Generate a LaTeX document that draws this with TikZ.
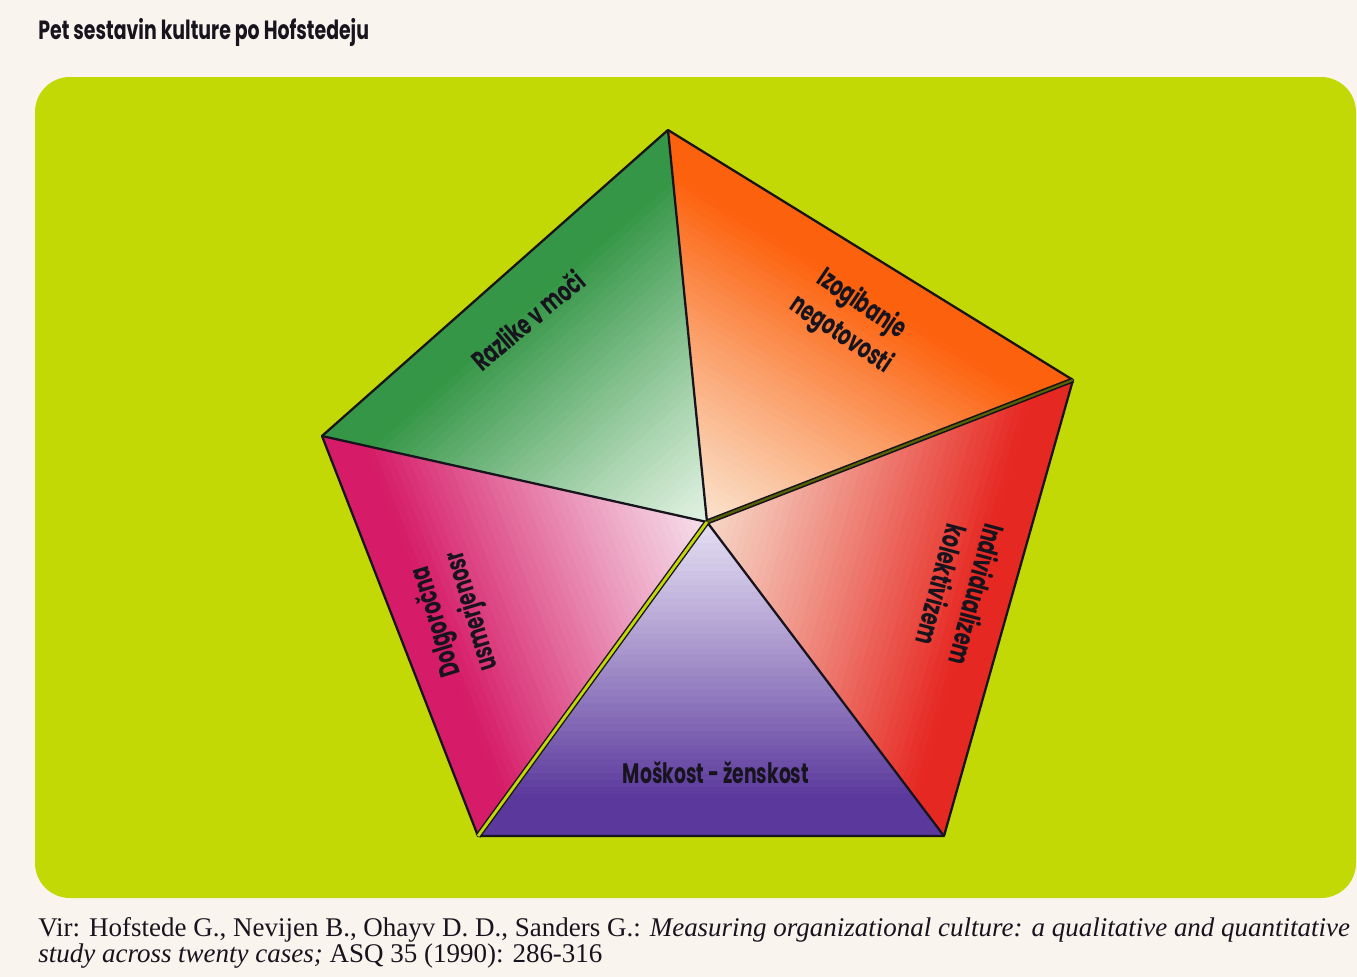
\documentclass[tikz,border=0pt]{standalone}
\usepackage{fontspec}
\usepackage{graphicx}
\usetikzlibrary{calc}
\newfontfamily\labfont{Poppins}
\newfontfamily\capfont{Liberation Serif}
\definecolor{pagebg}{RGB}{250,244,238}
\definecolor{limeg}{RGB}{195,217,6}
\definecolor{gdark}{RGB}{52,150,70}
\definecolor{glight}{RGB}{226,242,226}
\definecolor{odark}{RGB}{252,98,14}
\definecolor{olight}{RGB}{250,226,204}
\definecolor{rdark}{RGB}{230,40,34}
\definecolor{rlight}{RGB}{246,214,198}
\definecolor{pdark}{RGB}{90,56,156}
\definecolor{plight}{RGB}{228,222,242}
\definecolor{mdark}{RGB}{214,28,104}
\definecolor{mlight}{RGB}{246,222,234}
\definecolor{inkc}{RGB}{24,20,30}
\newsavebox\mybox
\newcommand\labsize{\labfont\bfseries\fontsize{16}{21}\selectfont}
\newcommand\titsize{\labfont\bfseries\fontsize{15}{20}\selectfont}
\newcommand\lab[1]{\scalebox{\labsx}[1]{\labsize\begin{tabular}{@{}c@{}}#1\end{tabular}}}
% gradient sector: outer edge #1--#2, towards centre C
\newcommand\sectorfill[4]{%
  \foreach \i in {0,...,44}{%
    \pgfmathsetmacro\ta{\i/45}%
    \pgfmathsetmacro\tb{min(1,(\i+1.6)/45)}%
    \pgfmathsetmacro\pc{100*max(0,min(1,(1-(\i+0.5)/45)/0.88))^1.1}%
    \fill[#3!\pc!#4] ($(#1)!\ta!(C)$) -- ($(#2)!\ta!(C)$) -- ($(#2)!\tb!(C)$) -- ($(#1)!\tb!(C)$) -- cycle;
  }}
\begin{document}
\sbox\mybox{\labsize Moškost - ženskost}%
\pgfmathsetmacro\labsx{106/\the\wd\mybox}%
\sbox\mybox{\titsize Pet sestavin kulture po Hofstedeju}%
\pgfmathsetmacro\titsx{188.2/\the\wd\mybox}%
\sbox\mybox{\capfont\fontsize{10}{12}\selectfont Vir: Hofstede G., Nevijen B., Ohayv D. D., Sanders G.: \textit{Measuring organizational culture: a qualitative and quantitative}}%
\pgfmathsetmacro\capsc{746.6/\the\wd\mybox}%
\begin{tikzpicture}[x=0.02cm,y=-0.02cm,
  edge/.style={draw=inkc, line width=1.3pt, line join=round},
  labnode/.style={inner sep=0pt, text=inkc},
  capnode/.style={anchor=base west, inner sep=0pt, text=inkc}]
% page
\useasboundingbox (0,0) rectangle (1357,977);
\fill[pagebg] (0,0) rectangle (1357,977);
\fill[limeg, rounded corners=0.7cm] (35,77) rectangle (1356,898);
% vertices
\coordinate (T) at (668,130);
\coordinate (R) at (1073,380);
\coordinate (BR) at (944,836);
\coordinate (BL) at (478,836);
\coordinate (L) at (322,436);
\coordinate (C) at (707,522);
% sectors
\sectorfill{L}{T}{gdark}{glight}
\sectorfill{T}{R}{odark}{olight}
\sectorfill{R}{BR}{rdark}{rlight}
\sectorfill{BR}{BL}{pdark}{plight}
\sectorfill{BL}{L}{mdark}{mlight}
% lines
\draw[edge] (T)--(R)--(BR)--(BL)--(L)--cycle;
\draw[edge] (C)--(T);
\draw[edge] (C)--(L);
\draw[edge] (C)--(BR);
\draw[draw=inkc, line width=0.9pt, double=black!55!limeg, double distance=1.2pt] (C)--(R);
\draw[draw=inkc, line width=0.8pt, double=limeg, double distance=1.6pt] (C)--(BL);
% labels
\node[labnode, rotate=40] (razlike) at (530,323) {\lab{Razlike v moči}};
\node[labnode, rotate=-34] (izog) at (851,320) {\lab{Izogibanje\\negotovosti}};
\node[labnode, rotate=-105] (indiv) at (956,589) {\lab{Individualizem\\kolektivizem}};
\node[labnode, rotate=107] (dolg) at (455,616) {\lab{Dolgoročna\\usmerjenosr}};
\node[labnode] (mosk) at (716,776) {\lab{Moškost - ženskost}};
% title and caption
\node[capnode] (title) at (38,39) {\scalebox{\titsx}[1]{\titsize Pet sestavin kulture po Hofstedeju}};
\node[capnode] (cap1) at (38,936) {\scalebox{\capsc}{\capfont\fontsize{10}{12}\selectfont Vir: Hofstede G., Nevijen B., Ohayv D. D., Sanders G.: \textit{Measuring organizational culture: a qualitative and quantitative}}};
\node[capnode] (cap2) at (38,962) {\scalebox{\capsc}{\capfont\fontsize{10}{12}\selectfont \textit{study across twenty cases;} ASQ 35 (1990): 286-316}};
\end{tikzpicture}
\end{document}
